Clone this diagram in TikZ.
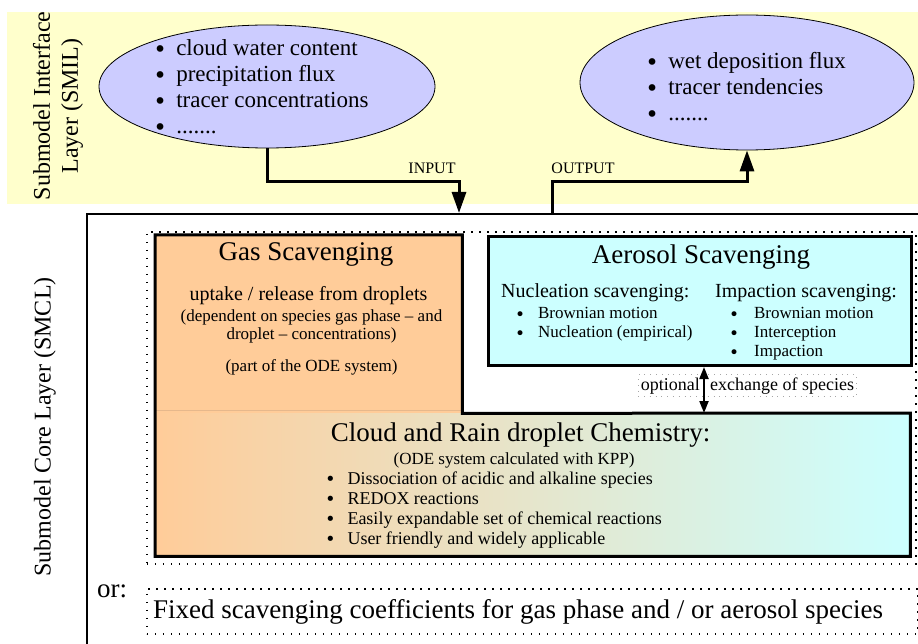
\documentclass[tikz,border=0pt]{standalone}
\usepackage{fontspec}
\setmainfont{Liberation Serif}
\newfontfamily\bulfont{DejaVu Sans}
\usetikzlibrary{arrows.meta,shapes.geometric,fit,calc}
\definecolor{smilbg}{HTML}{FFFFCC}
\definecolor{lav}{HTML}{CCCCFF}
\definecolor{gasor}{HTML}{FFCC99}
\definecolor{aercy}{HTML}{CCFFFF}
\definecolor{seam}{HTML}{E6B88C}
\newcommand\fsz[2]{\fontsize{#1}{#2}\selectfont}
\newcommand\bitem[1]{\makebox[0.35em][c]{\raisebox{-0.08em}{\bulfont •}}\hspace{#1}}
\begin{document}
\begin{tikzpicture}[x=1pt,y=-1pt,
  ellip/.style={ellipse, draw=black, line width=0.8pt, fill=lav, inner sep=0pt},
  elltext/.style={font=\fsz{23}{26}, inner sep=0pt, anchor=base west},
  flow/.style={line width=3pt, -{Triangle[length=21pt,width=14pt]}},
  dbl/.style={line width=2pt, {Triangle[length=12pt,width=9pt]}-{Triangle[length=12pt,width=9pt]}},
  dotbox/.style={draw, line width=1.6pt, dash pattern=on 1.6pt off 6.4pt},
  title/.style={font=\fsz{27}{31}, inner sep=0pt, anchor=base},
  small/.style={font=\fsz{17}{18}, inner sep=0pt},
  mid/.style={font=\fsz{20}{23}, inner sep=0pt},
  lab/.style={font=\fsz{16}{18}, inner sep=0pt, anchor=base}]
\useasboundingbox (0,0) rectangle (918,644);

% SMIL band
\fill[smilbg] (7,12) rectangle (918,204);
\node[font=\fsz{24}{28}, rotate=90, align=center, inner sep=0pt] (smil) at (58,106) {Submodel Interface\\Layer (SMIL)};

% ellipses
\node[ellip, minimum width=336pt, minimum height=123pt] (inell) at (267,86.5) {};
\node[elltext] (intext) at (156,56) {\begin{tabular}[t]{@{}l@{}}\bitem{12pt}cloud water content\\ \bitem{12pt}precipitation flux\\ \bitem{12pt}tracer concentrations\\ \bitem{12pt}.......\end{tabular}};
\node[ellip, minimum width=334pt, minimum height=135pt] (outell) at (747,82.5) {};
\node[elltext] (outtext) at (648,69) {\begin{tabular}[t]{@{}l@{}}\bitem{12pt}wet deposition flux\\ \bitem{12pt}tracer tendencies\\ \bitem{12pt}.......\end{tabular}};

% SMCL outer frame
\coordinate (smclTR) at (921,214);
\coordinate (smclTL) at (87,214);
\coordinate (smclBL) at (87,647);
\draw[line width=2.5pt] (smclTR) -- (smclTL) -- (smclBL);
\node[font=\fsz{24}{28}, rotate=90, inner sep=0pt] (smcl) at (45,427) {Submodel Core Layer (SMCL)};

% input / output
\coordinate (inpt) at (459,213);
\coordinate (inbend) at (459,182);
\coordinate (outpt) at (552,214);
\coordinate (outbend) at (552,182);
\draw[flow] (inell.south) |- (inbend) -- (inpt);
\draw[flow] (outpt) -- (outbend) -| (outell.south);
\node[lab] (inlab) at (432,174) {INPUT};
\node[lab] (outlab) at (583,174) {OUTPUT};

% dotted frame
\node[dotbox, minimum width=769pt, minimum height=332pt, anchor=north west, inner sep=0pt] (scav) at (146,231) {};

% gas + chemistry
\node[fill=gasor, minimum width=307pt, minimum height=178pt, inner sep=0pt, anchor=north west] (gas) at (155,235) {};
\node[left color=gasor, right color=aercy, minimum width=755pt, minimum height=143pt, inner sep=0pt, anchor=north west] (chem) at (155,413) {};
\draw[seam, line width=0.8pt] ($(gas.south west)+(0,-3)$) -- ($(gas.south east)+(0,-3)$);
\draw[line width=3pt] (gas.north west) -- (gas.north east) -- (gas.south east) -- (chem.north east) -- (chem.south east) -- (chem.south west) -- cycle;

% aerosol
\node[draw, line width=3pt, fill=aercy, minimum width=423pt, minimum height=129pt, inner sep=0pt, anchor=north west] (aer) at (487,235) {};

% gas texts
\node[title] (gastitle) at (306,261) {Gas Scavenging};
\node[mid, anchor=base] (gasup) at (308.5,301) {uptake / release from droplets};
\node[small, anchor=base] (gasdep) at (311.5,321) {\begin{tabular}[t]{@{}c@{}}(dependent on species gas phase – and\\droplet – concentrations)\end{tabular}};
\node[small, anchor=base] (gasode) at (311.5,371) {(part of the ODE system)};

% aerosol texts
\node[title] (aertitle) at (701,264) {Aerosol Scavenging};
\node[mid, anchor=base west] (nucl) at (501,298) {Nucleation scavenging:};
\node[mid, anchor=base west] (impc) at (715,298) {Impaction scavenging:};
\node[font=\fsz{17}{19}, inner sep=0pt, anchor=base west] (nucllist) at (517,319) {\begin{tabular}[t]{@{}l@{}}\bitem{15pt}Brownian motion\\ \bitem{15pt}Nucleation (empirical)\end{tabular}};
\node[font=\fsz{17}{19}, inner sep=0pt, anchor=base west] (impclist) at (731,319) {\begin{tabular}[t]{@{}l@{}}\bitem{17pt}Brownian motion\\ \bitem{17pt}Interception\\ \bitem{17pt}Impaction\end{tabular}};

% chemistry texts
\node[title] (chemtitle) at (520.5,441) {Cloud and Rain droplet Chemistry:};
\node[small, anchor=base] (chemode) at (514,464) {(ODE system calculated with KPP)};
\node[font=\fsz{18}{20}, inner sep=0pt, anchor=base west] (chemlist) at (327,484) {\begin{tabular}[t]{@{}l@{}}\bitem{14pt}Dissociation of acidic and alkaline species\\ \bitem{14pt}REDOX reactions\\ \bitem{14pt}Easily expandable set of chemical reactions\\ \bitem{14pt}User friendly and widely applicable\end{tabular}};

% exchange arrow
\coordinate (xch) at (704,0);
\node[font=\fsz{18}{20}, inner sep=1pt, anchor=base east] (opt) at (701,390) {optional};
\node[font=\fsz{18}{20}, inner sep=1pt, anchor=base west] (exch) at (709,390) {exchange of species};
\node[fit=(opt)(exch), draw=gray!70, line width=0.8pt, dash pattern=on 0.8pt off 5pt, inner sep=1.5pt] (exbox) {};
\draw[dbl] (aer.south -| xch) -- (chem.north -| xch);

% alternative
\node[font=\fsz{27}{31}, inner sep=0pt, anchor=base west] (orlab) at (97,597) {or:};
\node[dotbox, minimum width=771pt, minimum height=45pt, anchor=north west, inner sep=0pt] (fixedbox) at (146,588) {};
\node[font=\fsz{27}{31}, inner sep=0pt, anchor=base west] (fixedtext) at (153,618) {Fixed scavenging coefficients for gas phase and / or aerosol species};
\end{tikzpicture}
\end{document}
